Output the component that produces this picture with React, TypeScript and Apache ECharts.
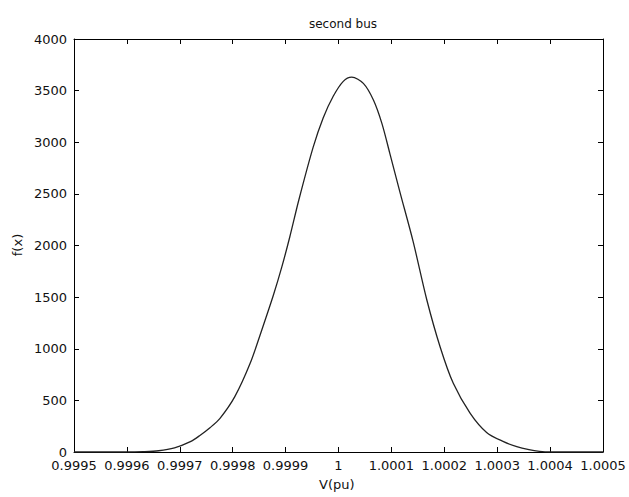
import React, { useEffect, useRef } from "react";
import * as echarts from "echarts";

const xValues = [
  0.9995, 0.99955, 0.9996, 0.99963, 0.99966, 0.99969, 0.99972, 0.999738, 0.999757, 0.999776,
  0.999804, 0.999833, 0.999855, 0.999877, 0.999893, 0.999908, 0.999925, 0.999952,
  0.999971, 0.99999, 1.000009, 1.000025, 1.000047, 1.000066, 1.000082, 1.000097,
  1.000116, 1.000141, 1.000167, 1.000192, 1.000217, 1.000249, 1.00028, 1.000312, 1.000337,
  1.00036, 1.00038, 1.0004, 1.00045, 1.0005,
];
const fValues = [
  0, 0, 0, 3, 12, 40, 100, 160, 235, 326,
  536, 859, 1182, 1520, 1795, 2085, 2441, 2950,
  3235, 3445, 3590, 3630, 3570, 3409, 3183, 2893,
  2520, 2040, 1472, 1020, 665, 375, 190, 100, 51,
  22, 6, 0, 0, 0,
];
const titleText = "second bus";
const xName = "V(pu)";
const yName = "f(x)";

const FONT = "DejaVu Sans";

export default function App() {
  const ref = useRef<HTMLDivElement>(null);
  useEffect(() => {
    if (!ref.current) return;
    const chart = echarts.init(ref.current, null, { renderer: "svg" });
    const fmt = (v: number) => parseFloat(v.toFixed(4)).toString();
    const yfmt = (v: number) => String(Math.round(v));
    const tickStyle = { inside: true, length: 5, lineStyle: { color: "#000", width: 1 } };
    const common = {
      type: "value" as const,
      axisLine: { show: true, onZero: false, lineStyle: { color: "#000", width: 1 } },
      splitLine: { show: false },
      axisTick: tickStyle,
    };
    chart.setOption({
      animation: false,
      backgroundColor: "#fff",
      title: {
        text: titleText,
        left: 338,
        top: 13,
        textAlign: "center",
        textStyle: { fontFamily: FONT, fontSize: 12, fontWeight: "normal", color: "#111" },
      },
      grid: { left: 74, right: 26, top: 39, bottom: 45 },
      xAxis: [
        {
          ...common,
          position: "bottom",
          min: 0.9995,
          max: 1.0005,
          interval: 0.0001,
          axisLabel: { formatter: fmt, color: "#111", fontFamily: FONT, fontSize: 13, margin: 7 },
        },
        {
          ...common,
          position: "top",
          min: 0.9995,
          max: 1.0005,
          interval: 0.0001,
          axisLabel: { show: false },
        },
      ],
      yAxis: [
        {
          ...common,
          position: "left",
          min: 0,
          max: 4000,
          interval: 500,
          axisLabel: { formatter: yfmt, color: "#111", fontFamily: FONT, fontSize: 13, margin: 7 },
        },
        {
          ...common,
          position: "right",
          min: 0,
          max: 4000,
          interval: 500,
          axisLabel: { show: false },
        },
      ],
      graphic: [
        {
          type: "text",
          left: 319,
          top: 478,
          style: { text: xName, fontFamily: FONT, fontSize: 13, fill: "#111" },
        },
        {
          type: "text",
          x: 17,
          y: 245,
          rotation: Math.PI / 2,
          style: {
            text: yName,
            fontFamily: FONT,
            fontSize: 13,
            fill: "#111",
            align: "center",
            verticalAlign: "middle",
          },
        },
      ],
      series: [
        {
          type: "line",
          data: xValues.map((x, i) => [x, fValues[i]]),
          smooth: 0.3,
          showSymbol: false,
          lineStyle: { color: "#222", width: 1.3 },
        },
      ],
    });
    return () => chart.dispose();
  }, []);
  return <div ref={ref} style={{ width: 629, height: 497, position: "absolute", left: 0, top: 0 }} />;
}
